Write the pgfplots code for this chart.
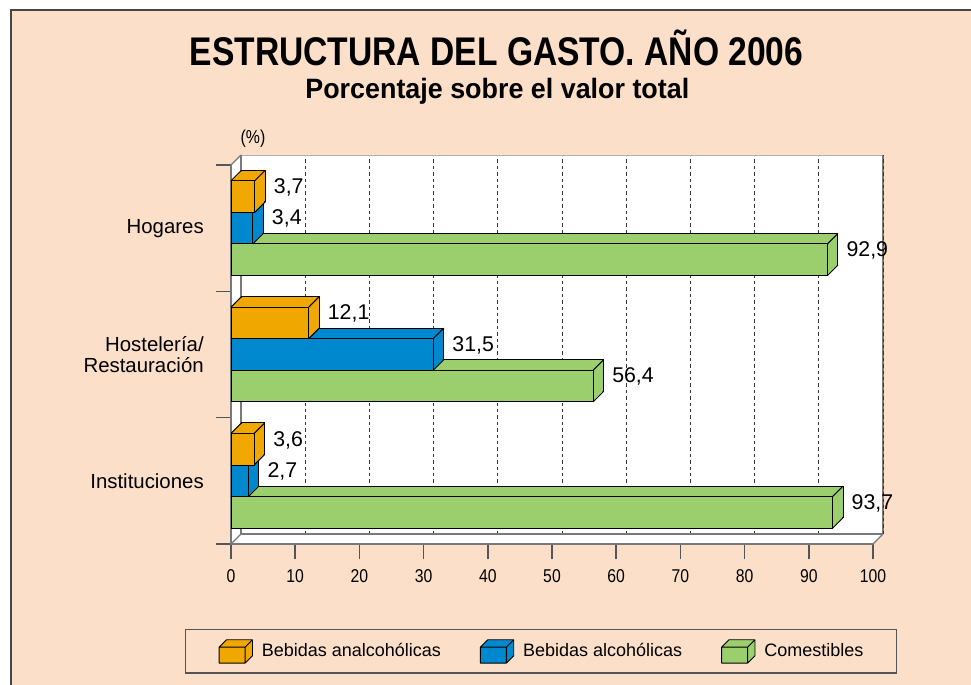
\documentclass[border=0pt]{standalone}
\usepackage{pgfplots}
\pgfplotsset{compat=1.18}
\usepackage{pgfplotstable}
\usepackage{fontspec}
\setmainfont{Liberation Sans}
\newfontfamily\condfont[FakeStretch=0.85]{Liberation Sans}
\newfontfamily\titlefont[FakeStretch=0.84]{Liberation Sans}
\newfontfamily\subfont[FakeStretch=0.96]{Liberation Sans}

\definecolor{peach}{RGB}{252,223,200}
\definecolor{cOr}{RGB}{240,168,0}
\definecolor{cBl}{RGB}{0,136,206}
\definecolor{cGr}{RGB}{155,207,110}
\definecolor{edgegray}{RGB}{120,120,120}
\definecolor{tickgray}{RGB}{85,85,85}
\definecolor{framegray}{RGB}{70,70,70}

% data: y position (category centre +/- offset), value
\pgfplotstableread{
y val
3.25 3.7
2.25 12.1
1.25 3.6
}\tOr
\pgfplotstableread{
y val
3.00 3.4
2.00 31.5
1.00 2.7
}\tBl
\pgfplotstableread{
y val
2.75 92.9
1.75 56.4
0.75 93.7
}\tGr

% depth of the 3D effect in axis units
\newcommand\dx{1.6355}
\newcommand\dy{0.08311}
\newcommand\dxw{1.5576}
\newcommand\dyw{0.07916}

\newcommand\cubeicon[1]{%
  \path[fill=#1, draw=none] (0pt,-9pt) -- (19.5pt,-9pt) -- (25pt,-3.5pt) -- (25pt,8.5pt) -- (5.5pt,8.5pt) -- (0pt,3pt) -- cycle;
  \path[draw=black, fill=none, line width=0.6pt, line join=round] (0pt,-9pt) rectangle (19.5pt,3pt)
     (0pt,3pt) -- (5.5pt,8.5pt) -- (25pt,8.5pt) -- (25pt,-3.5pt) -- (19.5pt,-9pt)
     (19.5pt,3pt) -- (25pt,8.5pt);
}

\newcommand\barsthreeD[3]{%
  \addplot[xbar, bar width=0.25, bar shift=0pt, fill=#2, draw=black, line width=0.75pt, forget plot,
     shift={(axis direction cs:\dx,\dy)}] table[x=val,y=y]{#1};
  \pgfplotsinvokeforeach{9,8,...,1}{%
    \addplot[xbar, bar width=0.25, bar shift=0pt, fill=#2, draw=none, forget plot,
      shift={(axis direction cs:##1*\dx/10,##1*\dy/10)}] table[x=val,y=y]{#1};
  }
  \addplot[quiver={u=\dx,v=\dy}, black, line width=0.75pt, no markers, forget plot]
     table[x expr=0, y expr=\thisrow{y}+0.125]{#1};
  \addplot[quiver={u=\dx,v=\dy}, black, line width=0.75pt, no markers, forget plot]
     table[x=val, y expr=\thisrow{y}+0.125]{#1};
  \addplot[quiver={u=\dx,v=\dy}, black, line width=0.75pt, no markers, forget plot]
     table[x=val, y expr=\thisrow{y}-0.125]{#1};
  \addplot[xbar, bar width=0.25, bar shift=0pt, fill=#2, draw=black, line width=0.75pt,
     point meta=x,
     nodes near coords={\pgfmathprintnumber[fixed,fixed zerofill,precision=1,use comma]{\pgfplotspointmeta}},
     nodes near coords style={anchor=base west, xshift=14pt, yshift=2.4pt, inner sep=0pt,
        text=black, font=\fontsize{16}{16}\selectfont},
     legend image code/.code={\cubeicon{#2}}] table[x=val,y=y]{#1};
  \addlegendentry{#3}
}

\begin{document}
\begin{tikzpicture}
\path[use as bounding box] (0pt,0pt) rectangle (728.25pt,513.75pt);
\fill[white] (0pt,0pt) rectangle (728.25pt,513.75pt);
\fill[peach] (8.25pt,0pt) rectangle (728.25pt,506.25pt);
\draw[framegray, line width=1.1pt] (8.25pt,0pt) -- (8.25pt,506.25pt) -- (728.25pt,506.25pt);

\node[anchor=base, font=\titlefont\bfseries\fontsize{30}{30}\selectfont] at (372.4pt,464.25pt)
  {ESTRUCTURA DEL GASTO. AÑO 2006};
\node[anchor=base, font=\subfont\bfseries\fontsize{21}{21}\selectfont] at (373pt,439.5pt)
  {Porcentaje sobre el valor total};

\begin{axis}[
  at={(173.25pt,105.75pt)}, anchor=south west,
  scale only axis, width=481.5pt, height=284.25pt,
  xmin=0, xmax=100, ymin=0.5, ymax=3.5,
  clip=false,
  axis line style={draw=none},
  tick pos=left,
  tick align=outside,
  xtick={0,10,...,100},
  ytick={0.5,1.5,2.5,3.5},
  yticklabels={},
  major tick length=11.6pt,
  tick style={draw=tickgray, line width=1.1pt},
  /pgf/number format/assume math mode=true,
  xticklabel style={font=\condfont\fontsize{13.9}{14}\selectfont, inner sep=0pt, yshift=-7.5pt},
  legend columns=3,
  reverse legend,
  legend style={at={(-0.07165,-0.22427)}, anchor=north west,
    draw=tickgray, line width=1.1pt, fill=peach,
    inner xsep=24.75pt, inner ysep=7.25pt,
    font=\fontsize{13.5}{16}\selectfont,
    nodes={inner sep=0pt},
    /tikz/every odd column/.append style={column sep=6.75pt},
    /tikz/every even column/.append style={column sep=29.25pt}},
]
% 3D frame: walls and floor
\fill[white] (axis cs:0,0.5) -- (axis cs:0,3.5) -- (axis cs:\dxw,3.5+\dyw) -- (axis cs:100+\dxw,3.5+\dyw)
   -- (axis cs:100+\dxw,0.5+\dyw) -- (axis cs:100,0.5) -- cycle;
\pgfplotsinvokeforeach{10,20,...,90}{%
  \draw[black!80, line width=0.75pt, dash pattern=on 2.6pt off 2.2pt] (axis cs:#1+\dxw,0.5+\dyw) -- (axis cs:#1+\dxw,3.5+\dyw);
}
\draw[edgegray!60, line width=0.6pt] (axis cs:\dxw,3.5+\dyw) -- (axis cs:100+\dxw,3.5+\dyw);
\draw[edgegray, line width=0.9pt] (axis cs:100+\dxw,0.5+\dyw) -- (axis cs:100+\dxw,3.5+\dyw);
\draw[black!80, line width=0.75pt, dash pattern=on 2.6pt off 2.2pt] (axis cs:100+\dxw,0.5+\dyw) -- (axis cs:100+\dxw,3.5+\dyw);
\draw[edgegray, line width=0.9pt] (axis cs:\dxw,3.5+\dyw) -- (axis cs:\dxw,0.5+\dyw) -- (axis cs:100+\dxw,0.5+\dyw);
\draw[edgegray, line width=0.9pt] (axis cs:0,3.5) -- (axis cs:\dxw,3.5+\dyw);
\draw[edgegray, line width=0.9pt] (axis cs:0,0.5) -- (axis cs:\dxw,0.5+\dyw);
\draw[edgegray, line width=0.9pt] (axis cs:100,0.5) -- (axis cs:100+\dxw,0.5+\dyw);
\draw[edgegray, line width=0.9pt] (axis cs:0,3.5) -- (axis cs:0,0.5) -- (axis cs:100,0.5);

\barsthreeD{\tGr}{cGr}{Comestibles}
\barsthreeD{\tBl}{cBl}{Bebidas alcohólicas}
\barsthreeD{\tOr}{cOr}{Bebidas analcohólicas}

% category labels
\node[anchor=east, inner sep=0pt, xshift=-20.25pt, font=\fontsize{15.3}{16.3}\selectfont] at (axis cs:0,3) {Hogares};
\node[anchor=east, inner sep=0pt, align=right, xshift=-20.25pt, font=\fontsize{15.3}{16.3}\selectfont] at (axis cs:0,2)
   {Hostelería/\\Restauración};
\node[anchor=east, inner sep=0pt, xshift=-20.25pt, font=\fontsize{15.3}{16.3}\selectfont] at (axis cs:0,1) {Instituciones};
\node[font=\condfont\fontsize{14}{14}\selectfont] at (axis cs:0,3.5) [xshift=16.5pt, yshift=19.5pt] {(\%)};
\end{axis}
\end{tikzpicture}
\end{document}
